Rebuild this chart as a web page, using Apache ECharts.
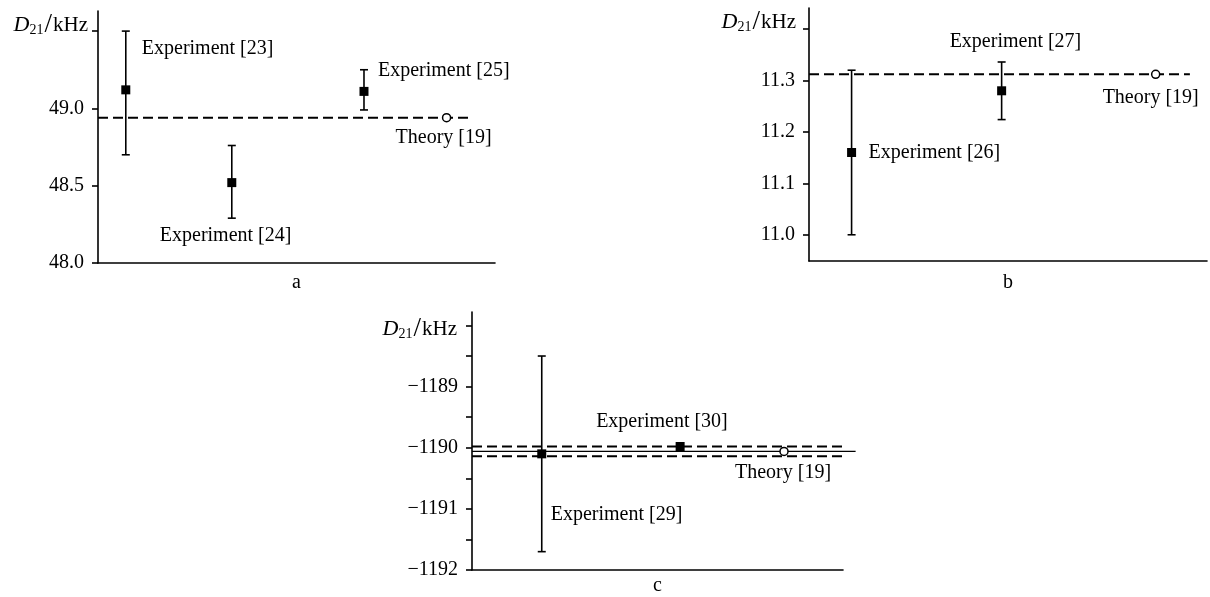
<!DOCTYPE html>
<html><head><meta charset="utf-8">
<script src="https://cdn.jsdelivr.net/npm/echarts@6/dist/echarts.min.js"></script>
<style>html,body{margin:0;padding:0;background:#fff}#c{width:1210px;height:597px}</style>
</head><body><div id="c"></div>
<script>
// ---------- Panel a ----------
const aX = [7, 33.7, 67];
const aVal = [49.12, 48.52, 49.11];
const aLo = [48.70, 48.29, 48.99];
const aHi = [49.50, 48.76, 49.25];
const aNames = ['Experiment [23]', 'Experiment [24]', 'Experiment [25]'];
const aTheory = 48.94;
const aTheoryX = 87.8;
const aTicks = [48.0, 48.5, 49.0, 49.5];
const aTickLabels = ['48.0', '48.5', '49.0', ''];
// ---------- Panel b ----------
const bX = [10.7, 48.4];
const bVal = [11.16, 11.28];
const bLo = [11.00, 11.224];
const bHi = [11.32, 11.336];
const bNames = ['Experiment [26]', 'Experiment [27]'];
const bTheory = 11.312;
const bTheoryX = 87.1;
const bTicks = [11.0, 11.1, 11.2, 11.3, 11.4];
const bTickLabels = ['11.0', '11.1', '11.2', '11.3', ''];
// ---------- Panel c ----------
const cX = [18.8, 56.1];
const cVal = [-1190.10, -1189.98];
const cLo = [-1191.70, null];
const cHi = [-1188.50, null];
const cNames = ['Experiment [29]', 'Experiment [30]'];
const cTheory = -1190.06;
const cTheoryErr = 0.08;
const cTheoryX = 84.1;
const cTicks = [-1192, -1191.5, -1191, -1190.5, -1190, -1189.5, -1189, -1188.5, -1188];
const cTickLabels = ['\u22121192', '', '\u22121191', '', '\u22121190', '', '\u22121189', '', ''];
const panelNames = ['a', 'b', 'c'];

// ---------- layout / style ----------
const FONT = 'Liberation Serif';
const grids = [
  {left: 98, top: 11, width: 397, height: 252},
  {left: 809, top: 8, width: 398, height: 253},
  {left: 472, top: 312, width: 371, height: 259}
];
const yRanges = [[48.0, 49.63], [10.949, 11.441], [-1192, -1187.78]];
const nameGaps = [10, 12, 6];
const labelOffsets = [
  {exp: [[16, -41], [-72, 53], [14, -21]], th: [-51, 20]},
  {exp: [[17, 0], [-52, -49]], th: [-53, 23]},
  {exp: [[9, 61], [-84, -25]], th: [-49, 21]}
];
const lineEnds = [93.7, 95.7, 101.0];
const solidEndC = 103.4;

const panels = [
  {x: aX, v: aVal, lo: aLo, hi: aHi, names: aNames, th: aTheory, thX: aTheoryX, ticks: aTicks, tl: aTickLabels},
  {x: bX, v: bVal, lo: bLo, hi: bHi, names: bNames, th: bTheory, thX: bTheoryX, ticks: bTicks, tl: bTickLabels},
  {x: cX, v: cVal, lo: cLo, hi: cHi, names: cNames, th: cTheory, thX: cTheoryX, ticks: cTicks, tl: cTickLabels}
];

const textStyle = {fontFamily: FONT, fontSize: 20, color: '#000'};

const option = {
  animation: false,
  backgroundColor: '#fff',
  grid: grids.map(g => Object.assign({containLabel: false}, g)),
  xAxis: grids.map((g, i) => ({
    type: 'value', gridIndex: i, min: 0, max: 100,
    name: panelNames[i], nameLocation: 'middle', nameGap: nameGaps[i],
    nameTextStyle: Object.assign({}, textStyle),
    axisLine: {show: true, onZero: false, lineStyle: {color: '#000', width: 1.6}},
    axisTick: {show: false}, axisLabel: {show: false}, splitLine: {show: false}
  })),
  yAxis: panels.map((p, i) => {
    const shown = p.ticks.filter((t, k) => p.tl[k] !== '');
    return {
      type: 'value', gridIndex: i, min: yRanges[i][0], max: yRanges[i][1],
      axisLine: {show: true, onZero: false, lineStyle: {color: '#000', width: 1.6}},
      axisTick: {show: true, customValues: p.ticks, length: 6, lineStyle: {color: '#000', width: 1.6}},
      axisLabel: {
        show: true, customValues: shown, margin: 14,
        fontFamily: FONT, fontSize: 20, color: '#000',
        formatter: function (v) {
          let best = 0;
          p.ticks.forEach((t, k) => { if (Math.abs(t - v) < Math.abs(p.ticks[best] - v)) best = k; });
          return p.tl[best];
        }
      },
      splitLine: {show: false}
    };
  }),
  series: [],
  graphic: []
};

function errRender(params, api) {
  const x = api.value(0), lo = api.value(1), hi = api.value(2);
  const t = api.coord([x, hi]), b = api.coord([x, lo]);
  const w = 4;
  const st = {stroke: '#000', lineWidth: 1.6};
  return {type: 'group', children: [
    {type: 'line', shape: {x1: t[0], y1: t[1], x2: b[0], y2: b[1]}, style: st},
    {type: 'line', shape: {x1: t[0] - w, y1: t[1], x2: t[0] + w, y2: t[1]}, style: st},
    {type: 'line', shape: {x1: b[0] - w, y1: b[1], x2: b[0] + w, y2: b[1]}, style: st}
  ]};
}

// horizontal theory line drawn through the axes' scales: data [x0, x1, y]
function hRender(dash, width) {
  return function (params, api) {
    const p0 = api.coord([api.value(0), api.value(2)]);
    const p1 = api.coord([api.value(1), api.value(2)]);
    return {type: 'line', shape: {x1: p0[0], y1: p0[1], x2: p1[0], y2: p1[1]},
      style: {stroke: '#000', lineWidth: width, lineDash: dash}};
  };
}

function lbl(text, off) {
  return Object.assign({show: true, formatter: text, position: 'inside', offset: off,
    align: 'left', verticalAlign: 'middle', opacity: 1}, textStyle);
}

panels.forEach((p, i) => {
  // theory line(s)
  if (i === 2) {
    option.series.push({type: 'custom', xAxisIndex: i, yAxisIndex: i, silent: true, clip: false,
      renderItem: hRender(null, 1.4), encode: {x: [0, 1], y: 2}, data: [[0, solidEndC, p.th]], z: 2});
    option.series.push({type: 'custom', xAxisIndex: i, yAxisIndex: i, silent: true, clip: false,
      renderItem: hRender([10, 5], 2), encode: {x: [0, 1], y: 2},
      data: [[0, lineEnds[i], p.th + cTheoryErr], [0, lineEnds[i], p.th - cTheoryErr]], z: 2});
  } else {
    option.series.push({type: 'custom', xAxisIndex: i, yAxisIndex: i, silent: true, clip: false,
      renderItem: hRender([10, 5], 2), encode: {x: [0, 1], y: 2}, data: [[0, lineEnds[i], p.th]], z: 2});
  }
  // error bars
  const errData = [];
  p.x.forEach((x, k) => { if (p.lo[k] !== null) errData.push([x, p.lo[k], p.hi[k]]); });
  option.series.push({type: 'custom', xAxisIndex: i, yAxisIndex: i, renderItem: errRender, clip: false,
    encode: {x: 0, y: [1, 2]}, data: errData, z: 3, silent: true});
  // experiment points
  option.series.push({type: 'scatter', xAxisIndex: i, yAxisIndex: i, symbol: 'rect', symbolSize: 9, clip: false,
    itemStyle: {color: '#000', opacity: 1}, z: 4, silent: true,
    data: p.x.map((x, k) => ({value: [x, p.v[k]], label: lbl(p.names[k], labelOffsets[i].exp[k])}))});
  // theory point
  option.series.push({type: 'scatter', xAxisIndex: i, yAxisIndex: i, symbol: 'circle', symbolSize: 8, clip: false,
    itemStyle: {color: '#fff', borderColor: '#000', borderWidth: 1.5, opacity: 1}, z: 5, silent: true,
    data: [{value: [p.thX, p.th], label: lbl('Theory [19]', labelOffsets[i].th)}]});
});

// y-axis titles D21/kHz
const titlePos = [[88, 25], [796, 22], [457, 329]];
titlePos.forEach(pos => {
  option.graphic.push({type: 'text', x: pos[0], y: pos[1], z: 10, silent: true,
    style: {text: '{d|D}{s|21}{sl|/}{n|kHz}', align: 'right', verticalAlign: 'middle',
      rich: {
        d: {fontFamily: FONT, fontStyle: 'italic', fontSize: 22, fill: '#000'},
        s: {fontFamily: FONT, fontSize: 14, fill: '#000', padding: [10, 1, 0, 0]},
        sl: {fontFamily: FONT, fontSize: 27, fill: '#000', padding: [0, 1, 0, 0]},
        n: {fontFamily: FONT, fontSize: 21, fill: '#000'}
      }}});
});

const chart = echarts.init(document.getElementById('c'), null, {renderer: 'canvas'});
chart.setOption(option);
</script></body></html>
